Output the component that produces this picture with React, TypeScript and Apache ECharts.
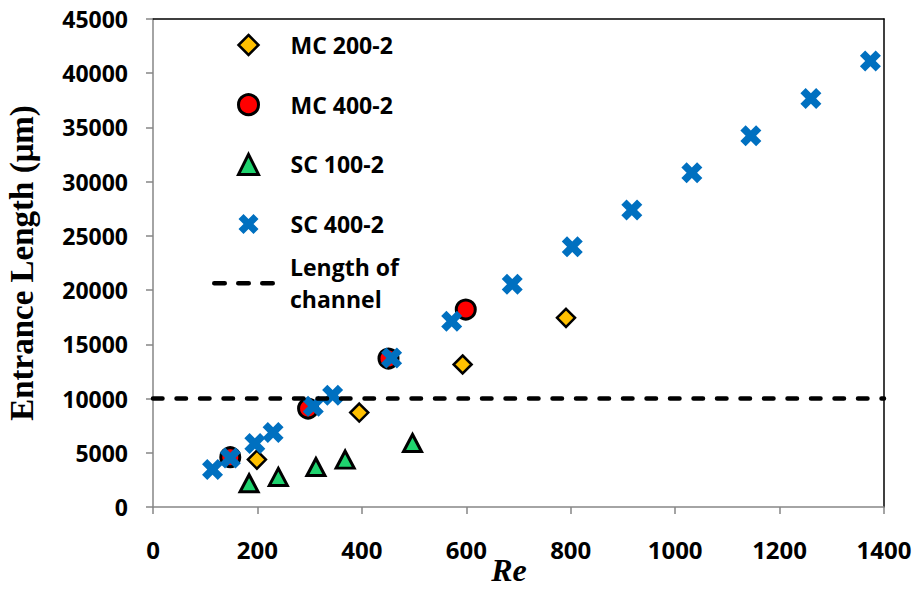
import React, { useEffect, useRef } from "react";
import * as echarts from "echarts";

// ---- data ----
const mc200Re = [199, 395, 593, 791];
const mc200Len = [4370, 8710, 13140, 17440];

const mc400Re = [148, 297, 451, 599];
const mc400Len = [4590, 9080, 13690, 18210];

const sc100Re = [184, 240, 312, 368, 497];
const sc100Len = [2190, 2770, 3690, 4370, 5900];

const sc400Re = [114, 148, 195, 230, 307, 344, 457, 572, 688, 803, 917, 1032, 1145, 1260, 1374];
const sc400Len = [3450, 4520, 5850, 6870, 9290, 10310, 13750, 17140, 20550, 23990, 27380, 30820, 34230, 37680, 41130];

const channelRe = [0, 1400];
const channelLen = [10000, 10000];

const seriesNames = ["MC 200-2", "MC 400-2", "SC 100-2", "SC 400-2"];
const channelName = "Length of channel";
const channelLabel = "Length of\nchannel";

const xTitle = "Re";
const yTitle = "Entrance Length (\u03bcm)";

const X_SYMBOL =
  "path://M0,5 L5,0 L10,5 L15,0 L20,5 L15,10 L20,15 L15,20 L10,15 L5,20 L0,15 L5,10 Z";

// three round-capped dashes, used as the legend icon of the dashed line
const dashSeg = (x0: number) =>
  `M${x0 + 2.25},0 L${x0 + 12.75},0 A2.25,2.25 0 0 1 ${x0 + 12.75},4.5 L${x0 + 2.25},4.5 A2.25,2.25 0 0 1 ${x0 + 2.25},0 Z`;
const DASH_ICON = "path://" + [0, 24, 48].map(dashSeg).join(" ");

const pairs = (xs: number[], ys: number[]) => xs.map((x, i) => [x, ys[i]]);

const labelFont = { fontFamily: "Open Sans", fontWeight: "bold" as const, color: "#000" };
const plain = (v: number) => String(v);

export default function App() {
  const ref = useRef<HTMLDivElement>(null);

  useEffect(() => {
    if (!ref.current) return;
    const chart = echarts.init(ref.current, undefined, { renderer: "svg" });

    const grayAxis = { color: "#868686", width: 1.5 };
    const legendText = { ...labelFont, fontSize: 23, lineHeight: 24 };
    const dashStyle = { color: "#000", width: 4.5, type: [9.5, 14], cap: "round" };

    const option: any = {
      animation: false,
      backgroundColor: "#ffffff",
      grid: {
        left: 153,
        right: 30,
        top: 19,
        bottom: 82,
        containLabel: false,
        outerBoundsMode: "none",
      },
      xAxis: [
        {
          type: "value",
          min: 0,
          max: 1400,
          interval: 200,
          position: "bottom",
          name: xTitle,
          nameLocation: "middle",
          nameGap: 50,
          nameMoveOverlap: false,
          nameTextStyle: {
            fontFamily: "Liberation Serif",
            fontStyle: "italic",
            fontWeight: "bold",
            fontSize: 32,
            lineHeight: 26,
            color: "#000",
            padding: [0, 19, 0, 0],
          },
          axisLine: { show: true, onZero: false, lineStyle: grayAxis },
          axisTick: { show: true, inside: false, length: 7, lineStyle: grayAxis },
          axisLabel: { ...labelFont, fontSize: 24, margin: 30, formatter: plain },
          splitLine: { show: false },
        },
        {
          type: "value",
          min: 0,
          max: 1400,
          position: "top",
          axisLine: { show: true, onZero: false, lineStyle: { color: "#000", width: 1.5 } },
          axisTick: { show: false },
          axisLabel: { show: false },
          splitLine: { show: false },
        },
      ],
      yAxis: [
        {
          type: "value",
          min: 0,
          max: 45000,
          interval: 5000,
          position: "left",
          name: yTitle,
          nameLocation: "middle",
          nameGap: 115,
          nameMoveOverlap: false,
          nameTextStyle: {
            fontFamily: "Liberation Serif",
            fontWeight: "bold",
            fontSize: 33,
            color: "#000",
          },
          axisLine: { show: true, onZero: false, lineStyle: grayAxis },
          axisTick: { show: true, inside: false, length: 7, lineStyle: grayAxis },
          axisLabel: { ...labelFont, fontSize: 23, margin: 25, formatter: plain },
          splitLine: { show: false },
        },
        {
          type: "value",
          min: 0,
          max: 45000,
          position: "right",
          axisLine: { show: true, onZero: false, lineStyle: { color: "#000", width: 1.5 } },
          axisTick: { show: false },
          axisLabel: { show: false },
          splitLine: { show: false },
        },
      ],
      legend: [
        {
          orient: "vertical",
          left: 237,
          top: 33,
          padding: 0,
          itemWidth: 20,
          itemHeight: 20,
          itemGap: 35.7,
          selectedMode: false,
          textStyle: { ...legendText, padding: [0, 0, 0, 27] },
          data: [
            { name: seriesNames[0], icon: "diamond", itemStyle: { borderColor: "#000", borderWidth: 2.5 } },
            { name: seriesNames[1], icon: "circle", itemStyle: { borderColor: "#000", borderWidth: 3 } },
            { name: seriesNames[2], icon: "triangle", itemStyle: { borderColor: "#000", borderWidth: 3 } },
            { name: seriesNames[3], icon: X_SYMBOL, itemStyle: { borderWidth: 0 } },
          ],
        },
        {
          orient: "vertical",
          left: 212,
          top: 235.7,
          padding: 0,
          itemWidth: 63,
          itemHeight: 20,
          selectedMode: false,
          formatter: () => channelLabel,
          textStyle: { ...legendText, lineHeight: 31.7, padding: [31.7, 0, 0, 10] },
          data: [
            {
              name: channelName,
              icon: DASH_ICON,
              itemStyle: { color: "#000", opacity: 1, borderWidth: 0 },
            },
          ],
        },
      ],
      series: [
        {
          type: "line",
          name: channelName,
          data: pairs(channelRe, channelLen),
          symbol: "none",
          showSymbol: false,
          silent: true,
          itemStyle: { color: "#000" },
          lineStyle: dashStyle,
        },
        {
          type: "scatter",
          name: seriesNames[0],
          data: pairs(mc200Re, mc200Len),
          symbol: "diamond",
          symbolSize: 18,
          itemStyle: { color: "#FFC000", borderColor: "#000", borderWidth: 2.5, opacity: 1 },
        },
        {
          type: "scatter",
          name: seriesNames[1],
          data: pairs(mc400Re, mc400Len),
          symbol: "circle",
          symbolSize: 19,
          itemStyle: { color: "#FF0000", borderColor: "#000", borderWidth: 3, opacity: 1 },
        },
        {
          type: "scatter",
          name: seriesNames[2],
          data: pairs(sc100Re, sc100Len),
          symbol: "triangle",
          symbolSize: [18, 17],
          itemStyle: { color: "#1FD36E", borderColor: "#000", borderWidth: 3, opacity: 1 },
        },
        {
          type: "scatter",
          name: seriesNames[3],
          data: pairs(sc400Re, sc400Len),
          symbol: X_SYMBOL,
          symbolSize: 21,
          itemStyle: { color: "#0070C0", opacity: 1 },
        },
      ],
    };

    chart.setOption(option);
    return () => chart.dispose();
  }, []);

  return (
    <div
      ref={ref}
      style={{ position: "absolute", left: 0, top: 0, width: 914, height: 589, background: "#fff" }}
    />
  );
}
